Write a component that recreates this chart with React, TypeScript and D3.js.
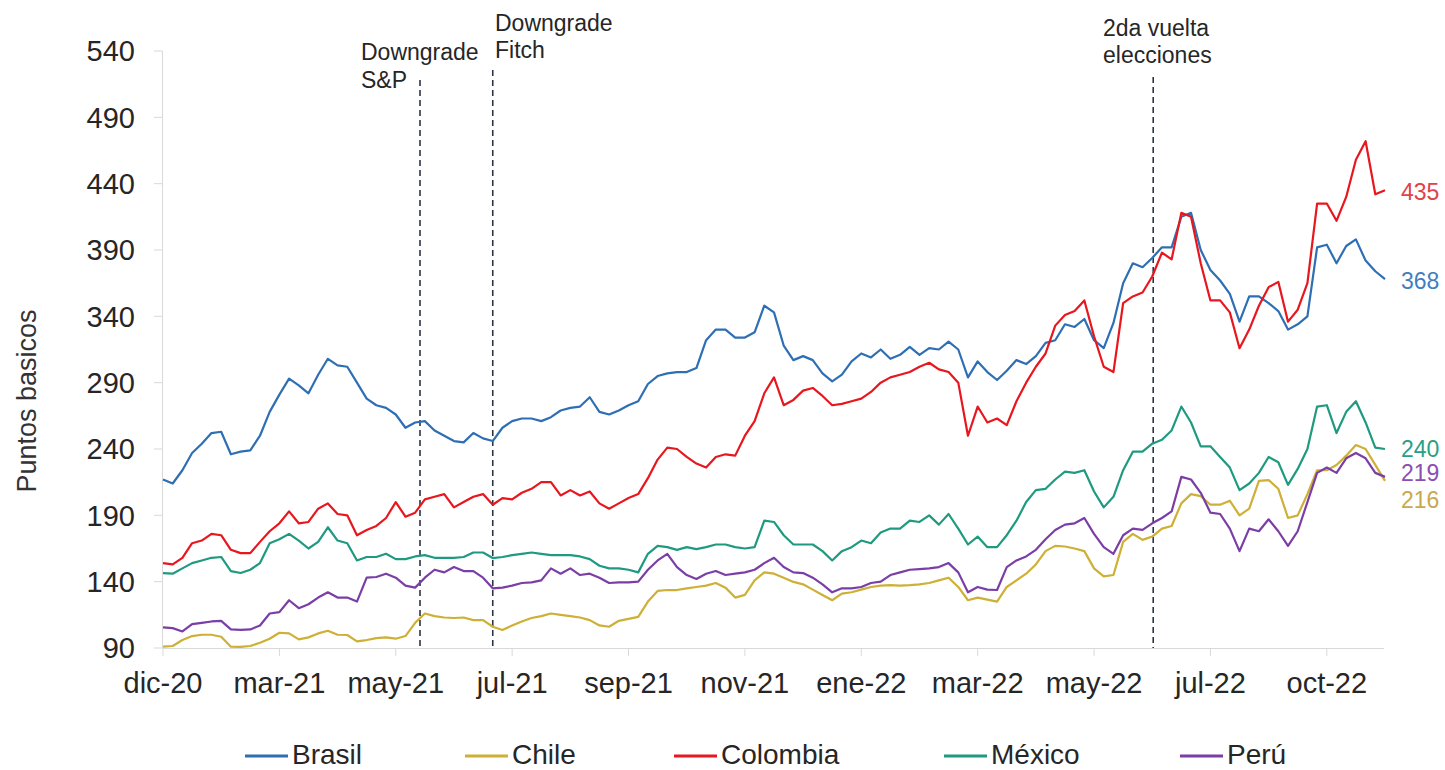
import React from "react";
import * as d3 from "d3";

const xLabels = ["dic-20", "mar-21", "may-21", "jul-21", "sep-21", "nov-21", "ene-22", "mar-22", "may-22", "jul-22", "oct-22"];
const yTicks = [90, 140, 190, 240, 290, 340, 390, 440, 490, 540];

const brasil = [217, 214, 224, 237, 244, 252, 253, 236, 238, 239, 250, 268, 281, 293, 288, 282, 296, 308, 303, 302, 290, 278, 273, 271, 266, 256, 260, 261, 254, 250, 246, 245, 252, 248, 246, 256, 261, 263, 263, 261, 264, 269, 271, 272, 279, 268, 266, 269, 273, 276, 289, 295, 297, 298, 298, 301, 322, 330, 330, 324, 324, 328, 348, 343, 318, 307, 310, 307, 297, 291, 296, 306, 312, 309, 315, 308, 311, 317, 311, 316, 315, 321, 315, 294, 306, 298, 292, 299, 307, 304, 310, 320, 322, 334, 332, 338, 322, 316, 335, 365, 380, 377, 384, 392, 392, 415, 418, 390, 375, 367, 357, 336, 355, 355, 350, 344, 330, 334, 340, 392, 394, 380, 393, 398, 382, 374, 368];
const chile = [91, 91.5, 96, 99, 100, 100, 98.5, 91, 90.8, 91.5, 94, 97, 101.5, 101, 96.5, 98, 101, 103, 100, 99.8, 95, 96, 97.5, 98, 97, 99, 109, 116, 114, 113, 112.6, 113, 111, 111, 106, 103.6, 107, 110, 112.6, 114, 116, 115, 114, 113, 111, 107, 106, 110.5, 112, 113.5, 125, 133, 133.7, 133.7, 135, 136, 137, 139, 135.5, 128, 130, 141, 147, 146, 143, 139.8, 138, 134, 130, 126, 131, 132, 134, 136, 137, 137.4, 137, 137.4, 138, 139, 141, 143, 136, 126, 128, 126.5, 125, 136, 141, 146, 153, 163, 167, 166.5, 165, 163, 150, 144, 145, 170, 176, 171.5, 174, 180, 182, 199, 206, 204.5, 198, 198, 201, 190, 195, 216, 216.6, 210, 188, 190, 206, 224, 224, 228, 235, 243, 240, 228, 216];
const colombia = [154, 153, 158, 169, 171, 176, 175, 164, 161.5, 161.5, 170, 178, 184, 193, 184, 185, 195, 199, 191, 190, 175, 179, 182, 188, 200, 189, 192, 202, 204, 206, 196, 200, 204, 206, 198, 203, 202, 207, 210, 215, 215, 205, 209, 205, 208, 199, 195, 199, 203, 206, 218, 232, 241, 240, 234, 229, 226, 234, 236, 235, 250, 261, 282, 294, 273, 277, 284, 286, 280, 273, 274, 276, 278, 283, 290, 294, 296, 298, 302, 305, 300, 298, 290, 250, 272, 260, 263, 258, 276, 290, 302, 312, 333, 341, 344, 352, 325, 302, 298, 350, 355, 358, 370, 388, 383, 418, 415, 380, 352, 352, 343, 316, 330, 348, 362, 366, 336, 345, 365, 425, 425, 412, 430, 458, 472, 432, 435];
const mexico = [146.5, 146, 150, 154, 156, 158, 158.6, 148, 146.5, 149, 154, 169, 172, 176, 171, 165, 170, 181, 171, 169, 156, 158.6, 158.6, 161, 157, 157, 159, 160, 158, 158, 158, 158.6, 162, 162, 157.8, 158.6, 160, 161, 162, 161, 160, 160, 160, 159, 157, 152, 150, 150, 149, 147, 161, 167, 166, 164, 166, 164.5, 166, 168, 168, 166, 165, 166, 186, 185, 175, 168, 168, 168, 163, 156, 163, 166, 171, 169, 177, 180, 180, 186, 185, 190, 183, 191, 180, 168, 174, 166, 166, 175, 186, 200, 209, 210, 217, 223, 222, 224, 208, 196, 204, 224, 238, 238, 244, 247, 254, 272, 260, 242, 242, 234, 226, 209, 214, 222, 234, 230, 213, 225, 240, 272, 273, 252, 268, 276, 260, 241, 240];
const peru = [105.5, 105, 102.5, 108, 109, 110, 110.5, 104, 103.6, 104, 107, 116, 117, 126, 120, 123, 128, 132, 128, 128, 125, 143, 143.5, 146, 143, 137, 135.5, 143, 149, 147, 151, 148, 148, 143, 135, 135.5, 137, 139, 139.5, 141, 150, 146, 150, 145, 146, 143, 139, 139.5, 139.5, 140, 149, 156, 161, 151, 145, 142, 146, 148, 145, 146, 147, 149, 154, 158, 151, 147, 146.5, 143, 138, 132, 135, 135, 136, 139, 140, 145, 147, 149, 149.5, 150, 151, 154, 147, 132, 136, 134, 133.7, 151, 156, 159, 164, 172, 179, 183, 184, 188, 176, 166, 161, 175, 180, 179, 184, 188, 193, 219, 217, 207, 192, 191, 180, 163, 180, 178, 187, 178, 167, 178, 200, 222, 226, 222, 233, 237, 233, 222, 219];

const seriesNames = ["Brasil", "Chile", "Colombia", "México", "Perú"];
const seriesColors = ["#2e6fb4", "#cdb035", "#e8161e", "#1f9a80", "#7a3ea6"];
const labelColors = ["#3f7fc0", "#c9a94c", "#e0414a", "#2a9e86", "#8a4eb0"];
const seriesData = [brasil, chile, colombia, mexico, peru];
const endLabels = ["368", "216", "435", "240", "219"];
const endLabelY = [281, 500, 192, 449, 473];

const events = [
  { idx: 26.5, lines: ["Downgrade", "S&P"], textX: 361, top: 80, baselines: [60, 88] },
  { idx: 34, lines: ["Downgrade", "Fitch"], textX: 495, top: 70, baselines: [31, 58] },
  { idx: 102.1, lines: ["2da vuelta", "elecciones"], textX: 1103, top: 77, baselines: [36, 63] },
];

const legendLineX = [245, 465, 674, 944, 1180];

const FONT = "'Liberation Sans', Arial, Helvetica, sans-serif";

export default function App() {
  const n = brasil.length;
  const x = d3.scaleLinear().domain([0, n - 1]).range([163, 1385]);
  const y = d3.scaleLinear().domain([90, 540]).range([648, 51]);
  const line = d3
    .line<number>()
    .x((_, i) => x(i))
    .y((d) => y(d));

  const tickIdx = xLabels.map((_, i) => i * 12);

  return (
    <svg
      width={1445}
      height={770}
      style={{ position: "absolute", left: 0, top: 0, background: "#fff" }}
      fontFamily={FONT}
    >
      {/* Y axis */}
      <line x1={162.5} x2={162.5} y1={y(540)} y2={y(90)} stroke="#d9d9d9" strokeWidth={1} />
      {yTicks.map((t) => (
        <g key={t}>
          <line x1={154} x2={162.5} y1={y(t)} y2={y(t)} stroke="#d9d9d9" strokeWidth={1} />
          <text x={135} y={y(t)} dy="0.36em" textAnchor="end" fontSize={29} fill="#262626">
            {t}
          </text>
        </g>
      ))}
      <text
        transform={`translate(36,401) rotate(-90)`}
        textAnchor="middle"
        fontSize={27}
        fill="#333"
      >
        Puntos basicos
      </text>

      {/* X axis */}
      <line x1={162.5} x2={1384} y1={648.5} y2={648.5} stroke="#d9d9d9" strokeWidth={1.2} />
      {tickIdx.map((ti, k) => (
        <g key={ti}>
          <line x1={x(ti)} x2={x(ti)} y1={648.5} y2={656} stroke="#d9d9d9" strokeWidth={1} />
          <text x={x(ti)} y={693} textAnchor="middle" fontSize={29} fill="#262626">
            {xLabels[k]}
          </text>
        </g>
      ))}

      {/* Event lines */}
      {events.map((e, k) => (
        <g key={k}>
          <line
            x1={x(e.idx)}
            x2={x(e.idx)}
            y1={e.top}
            y2={y(90)}
            stroke="#2b3546"
            strokeWidth={1.6}
            strokeDasharray="6,4"
          />
          {e.lines.map((t, j) => (
            <text key={j} x={e.textX} y={e.baselines[j]} fontSize={23} fill="#262626">
              {t}
            </text>
          ))}
        </g>
      ))}

      {/* Series */}
      {seriesData.map((s, k) => (
        <path
          key={seriesNames[k]}
          d={line(s) || ""}
          fill="none"
          stroke={seriesColors[k]}
          strokeWidth={2.2}
          strokeLinejoin="round"
        />
      ))}

      {/* End labels */}
      {endLabels.map((l, k) => (
        <text key={l} x={1401} y={endLabelY[k]} dy="0.36em" fontSize={23} fill={labelColors[k]}>
          {l}
        </text>
      ))}

      {/* Legend */}
      {seriesNames.map((nm, k) => (
        <g key={nm}>
          <line
            x1={legendLineX[k]}
            x2={legendLineX[k] + 43}
            y1={756}
            y2={756}
            stroke={seriesColors[k]}
            strokeWidth={3}
          />
          <text x={legendLineX[k] + 47} y={764} fontSize={28} fill="#262626">
            {nm}
          </text>
        </g>
      ))}
    </svg>
  );
}
